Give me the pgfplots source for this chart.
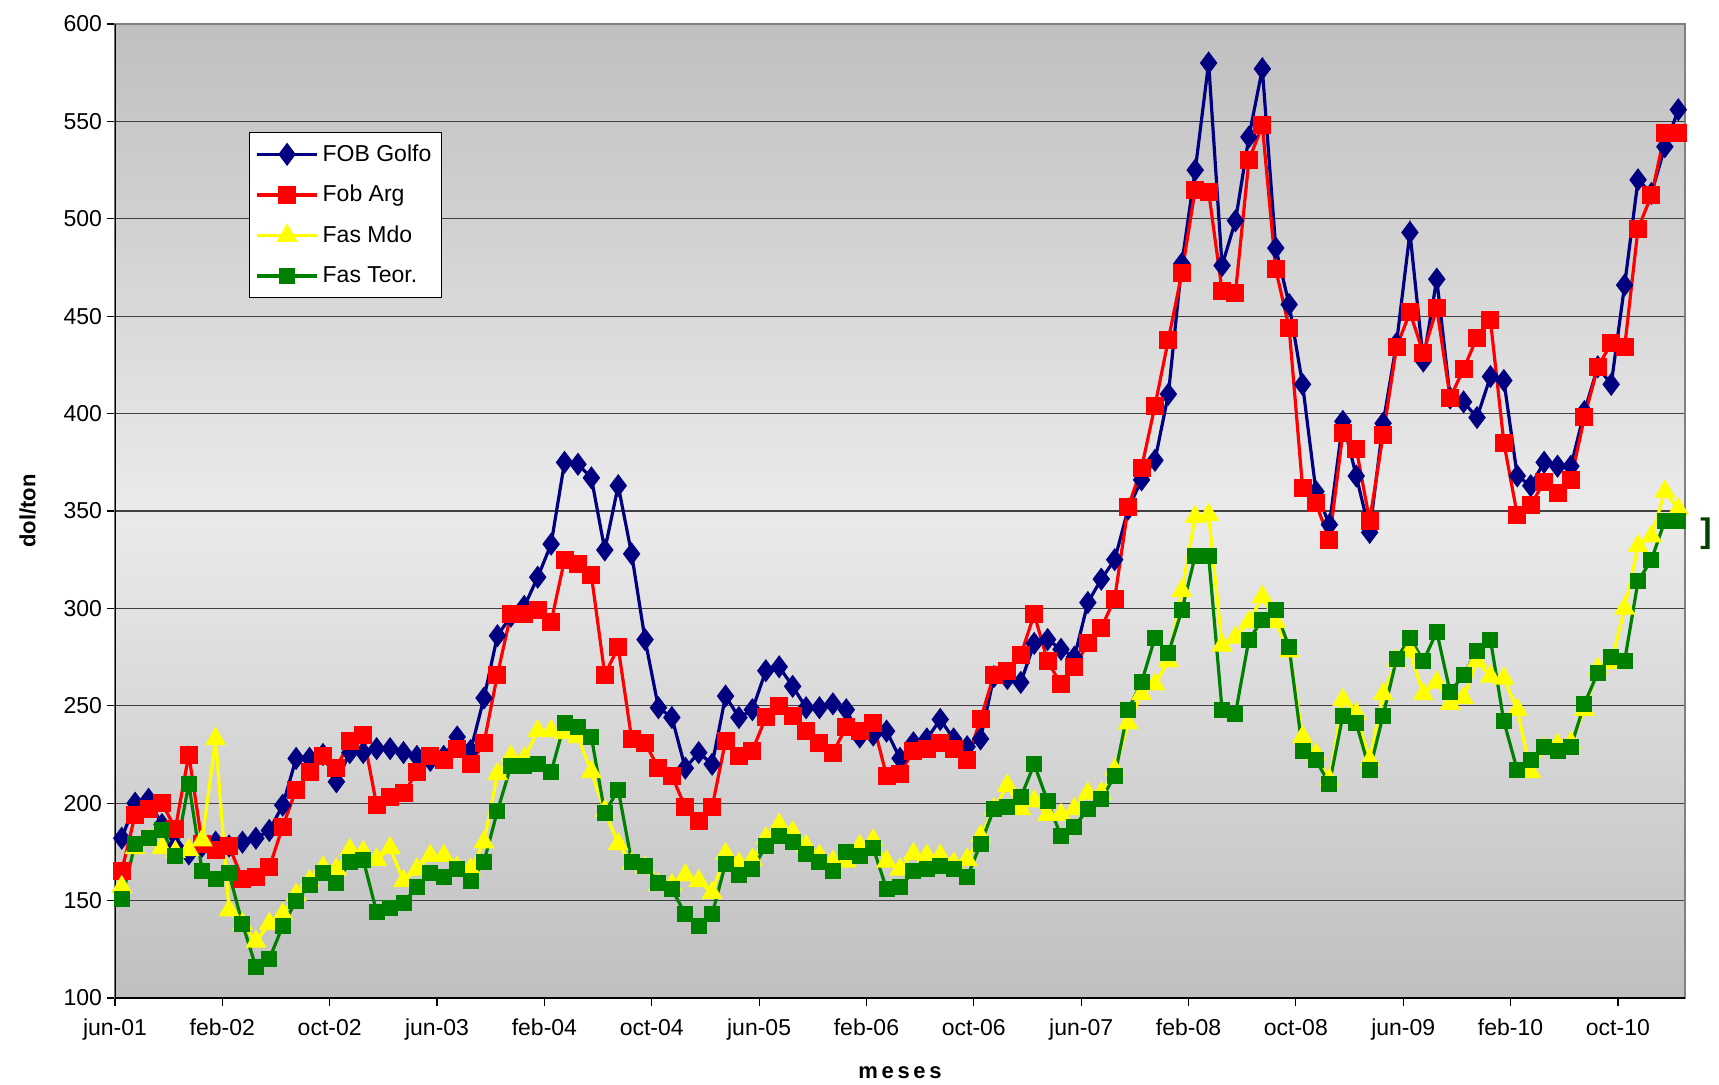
\documentclass[border=0pt]{standalone}
\usepackage{pgfplots}
\usepackage{pgfplotstable}
\usepackage{fontspec}
\setmainfont{Liberation Sans}
\pgfplotsset{compat=1.18}
\definecolor{navyb}{RGB}{0,0,128}
\definecolor{redl}{RGB}{255,0,0}
\definecolor{yell}{RGB}{255,255,0}
\definecolor{grn}{RGB}{0,128,0}

\pgfplotstableread{
i golfo arg mdo teor
0 182 165 157 151
1 200 194 177 179
2 202 197 181 182
3 189 200 177 186
4 178 187 175 173
5 174 225 176 210
6 178 179 181 165
7 180 176 233 161
8 178 178 145 164
9 180 161 138 138
10 182 162 129 116
11 186 167 138 120
12 199 188 143 137
13 223 207 153 150
14 223 216 160 158
15 225 224 167 164
16 211 218 166 159
17 226 232 176 170
18 226 235 175 171
19 228 199 171 144
20 228 203 177 146
21 226 205 160 149
22 224 216 166 157
23 222 224 173 164
24 224 222 173 162
25 234 228 167 166
26 227 220 166 160
27 254 231 180 170
28 286 266 215 196
29 296 297 224 219
30 301 297 223 219
31 316 299 237 220
32 333 293 237 216
33 375 325 236 241
34 374 323 234 239
35 367 317 216 234
36 330 266 196 195
37 363 280 179 207
38 328 233 169 170
39 284 231 167 168
40 249 218 158 159
41 244 214 158 156
42 218 198 163 143
43 226 191 160 137
44 220 198 154 143
45 255 232 174 169
46 244 224 169 163
47 248 227 171 166
48 268 244 182 178
49 270 250 189 183
50 260 245 185 180
51 249 237 178 174
52 249 231 173 170
53 251 226 170 165
54 248 239 170 175
55 234 237 178 173
56 235 241 181 177
57 237 214 170 156
58 223 215 166 157
59 231 227 174 165
60 233 228 173 166
61 243 231 173 168
62 233 228 169 166
63 229 222 171 162
64 233 243 183 179
65 265 266 197 197
66 264 268 209 198
67 262 276 197 203
68 282 297 201 220
69 284 273 194 201
70 279 261 194 183
71 275 270 197 188
72 303 282 205 197
73 315 290 205 202
74 325 305 217 214
75 351 352 241 248
76 366 372 256 262
77 376 404 261 285
78 410 438 273 277
79 477 472 309 299
80 525 515 347 327
81 580 514 348 327
82 476 463 281 248
83 499 462 285 246
84 542 530 293 284
85 577 548 306 294
86 485 474 293 299
87 456 444 278 280
88 415 362 234 227
89 360 354 225 222
90 343 335 212 210
91 396 390 253 245
92 368 382 246 241
93 339 345 222 217
94 395 389 256 245
95 436 434 273 274
96 493 452 278 285
97 427 431 256 273
98 469 454 262 288
99 408 408 251 257
100 406 423 254 266
101 398 439 273 278
102 419 448 265 284
103 417 385 264 242
104 368 348 248 217
105 363 353 216 222
106 375 365 228 229
107 373 359 230 227
108 373 366 231 229
109 401 398 248 251
110 424 424 269 267
111 415 436 272 275
112 466 434 300 273
113 520 495 332 314
114 513 512 337 325
115 537 544 360 345
116 556 544 351 345
}\datatable

\begin{document}
\begin{tikzpicture}
\useasboundingbox (0,0) rectangle (859.5pt,542pt);
\begin{axis}[
  at={(57.5pt,43pt)}, anchor=south west,
  scale only axis, width=785pt, height=487pt,
  xmin=-0.5, xmax=116.5, ymin=100, ymax=600,
  ytick={100,150,...,600},
  xtick={-0.5,7.5,15.5,23.5,31.5,39.5,47.5,55.5,63.5,71.5,79.5,87.5,95.5,103.5,111.5},
  xticklabels={jun-01,feb-02,oct-02,jun-03,feb-04,oct-04,jun-05,feb-06,oct-06,jun-07,feb-08,oct-08,jun-09,feb-10,oct-10},
  tick align=outside, major tick length=4pt,
  xtick pos=bottom, ytick pos=left,
  tick style={black, line width=0.6pt},
  /pgf/number format/assume math mode=true,
  ticklabel style={font=\fontsize{11.5}{13}\selectfont},
  yticklabel style={xshift=1pt},
  xticklabel style={yshift=-3pt},
  ymajorgrids, grid style={black!75, line width=0.6pt},
  axis line style={draw=black!50, line width=1pt},
  axis background/.style={shade, top color=black!25, bottom color=black!25, middle color=black!8},
  xlabel={\textbf{m\,e\,s\,e\,s}},
  ylabel={\textbf{dol/ton}},
  label style={font=\fontsize{11}{12}\selectfont},
  xlabel style={yshift=-6pt},
  ylabel style={yshift=7pt},
  legend style={at={(0.0854,0.889)}, anchor=north west, draw=black, fill=white,
    font=\fontsize{11.5}{13}\selectfont, row sep=6.5pt, inner xsep=3pt, inner ysep=4pt,
    cells={anchor=west}},
  legend image code/.code={\draw[mark repeat=2,mark phase=2] plot coordinates {(0pt,0pt) (15pt,0pt) (30pt,0pt)};},
]
\addplot[navyb, line width=1.6pt, mark=diamond*, mark size=4.5pt, mark options={solid, fill=navyb}] table[x=i, y=golfo] {\datatable};
\addlegendentry{FOB Golfo}
\addplot[redl, line width=1.6pt, mark=square*, mark size=3.7pt, mark options={solid, fill=redl}] table[x=i, y=arg] {\datatable};
\addlegendentry{Fob Arg}
\addplot[yell, line width=1.6pt, mark=triangle*, mark size=4.5pt, mark options={solid, fill=yell}] table[x=i, y=mdo] {\datatable};
\addlegendentry{Fas Mdo}
\addplot[grn, line width=1.6pt, mark=square*, mark size=3.2pt, mark options={solid, fill=grn}] table[x=i, y=teor] {\datatable};
\addlegendentry{Fas Teor.}
\draw[black, line width=1pt] (rel axis cs:0,0) -- (rel axis cs:0,1);
\draw[black, line width=1pt] (rel axis cs:0,0) -- (rel axis cs:1,0);
\end{axis}
\node[text=grn!50!black, font=\bfseries\fontsize{17}{18}\selectfont] at (853pt,275pt) {]};
\end{tikzpicture}
\end{document}
